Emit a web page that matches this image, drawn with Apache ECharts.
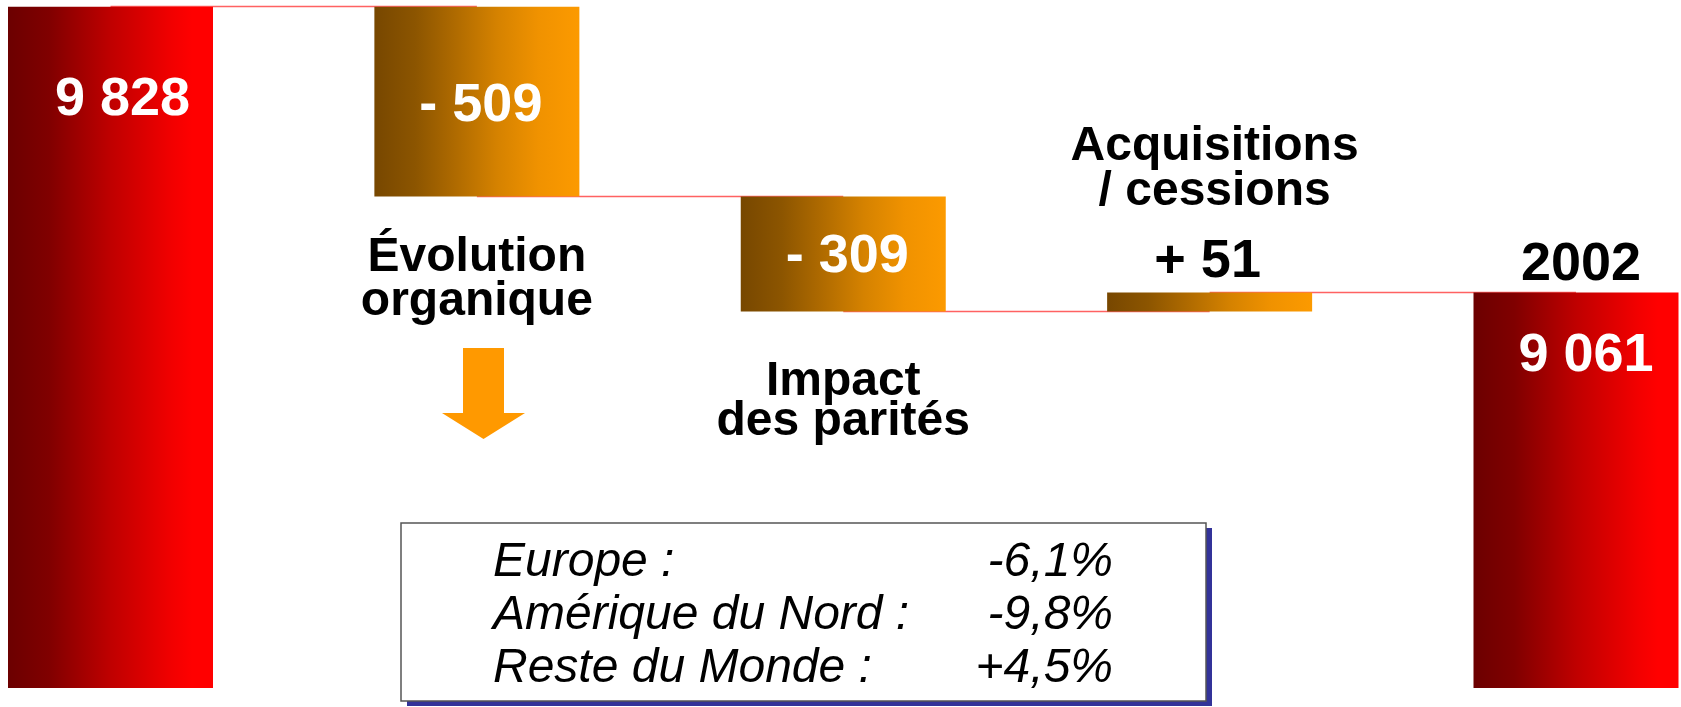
<!DOCTYPE html>
<html>
<head>
<meta charset="utf-8">
<title>Chiffre d'affaires 2002</title>
<script src="https://cdn.jsdelivr.net/npm/echarts@6.0.0/dist/echarts.min.js"></script>
<style>
  html, body { margin: 0; padding: 0; background: #fff; }
  #main { width: 1681px; height: 707px; }
</style>
</head>
<body>
<div id="main"></div>
<script>
// données
const categories = ["", "Évolution\norganique", "Impact\ndes parités", "Acquisitions\n/ cessions", "2002"];
const values = [9828, -509, -309, 51, 9061];
const valueLabels = ["9 828", "- 509", "- 309", "+ 51", "9 061"];
const isTotal = [true, false, false, false, true];
const regionNames = ["Europe :", "Amérique du Nord :", "Reste du Monde :"];
const regionChanges = ["-6,1%", "-9,8%", "+4,5%"];

const AXIS_MIN = 8000;
const AXIS_MAX = 9846;
const BAND = 366.375;           // largeur d'une catégorie en px
const GRID_LEFT = 110.5 - BAND / 2;
const GRID_RIGHT = 1681 - (GRID_LEFT + BAND * categories.length);
const BAR_W = 205;
const FONT = "'Liberation Sans', Arial, Helvetica, sans-serif";

// cascade : base invisible + partie visible
let level = 0;
const base = [], height = [], lows = [], highs = [], levels = [];
values.forEach(function (v, i) {
  if (isTotal[i]) {
    base.push(0);
    height.push(v);
    lows.push(AXIS_MIN);
    highs.push(v);
    level = v;
  } else {
    const lo = Math.min(level, level + v);
    base.push(lo);
    height.push(Math.abs(v));
    lows.push(lo);
    highs.push(lo + Math.abs(v));
    level += v;
  }
  levels.push(level);
});

// traits de liaison, d'un centre de barre au suivant (cachés sous les barres)
const connectors = [];
for (let i = 0; i < values.length - 1; i++) {
  connectors.push({ coords: [[i, levels[i]], [i + 1, levels[i]]] });
}

const redGrad = new echarts.graphic.LinearGradient(0, 0, 1, 0, [
  { offset: 0, color: "#6c0000" },
  { offset: 0.2, color: "#800000" },
  { offset: 0.5, color: "#bf0000" },
  { offset: 0.8, color: "#f20000" },
  { offset: 0.9, color: "#ff0000" },
  { offset: 1, color: "#ff0000" }
]);
const orangeGrad = new echarts.graphic.LinearGradient(0, 0, 1, 0, [
  { offset: 0, color: "#774700" },
  { offset: 0.2, color: "#8c5500" },
  { offset: 0.4, color: "#b06b00" },
  { offset: 0.6, color: "#d58200" },
  { offset: 0.8, color: "#f09200" },
  { offset: 1, color: "#fc9a00" }
]);

// positions des étiquettes (px, par rapport au point d'ancrage)
const valueOffsets = [[12, 93], [4, 99], [4, 61], [-2, -30], [10, 64]];
const catOffsets = [null, [0, 83], [0, 90.5], [5, -123], [5, -27]];
const catLineHeights = [0, 44, 40, 45, 54];

const valueLabelData = values.map(function (v, i) {
  return {
    value: [i, highs[i]],
    label: {
      formatter: valueLabels[i],
      offset: valueOffsets[i],
      color: i === 3 ? "#000" : "#fff"
    }
  };
});

const catLabelData = [];
categories.forEach(function (c, i) {
  if (!c) return;
  const anchor = (!isTotal[i] && values[i] < 0) ? lows[i] : highs[i];
  catLabelData.push({
    value: [i, anchor],
    label: {
      formatter: c,
      offset: catOffsets[i],
      lineHeight: catLineHeights[i],
      fontSize: i === 4 ? 54 : 48
    }
  });
});

// encadré des parités
const boxX = 401, boxY = 523, boxW = 805, boxH = 178;
const lineTop0 = 539, lineStep = 53;
const boxTexts = [];
regionNames.forEach(function (name, i) {
  boxTexts.push({
    type: "text",
    left: 493, top: lineTop0 + i * lineStep,
    style: { text: name, font: "italic 48px " + FONT, fill: "#000" }
  });
  boxTexts.push({
    type: "text",
    right: 1681 - 1113, top: lineTop0 + i * lineStep,
    style: { text: regionChanges[i], font: "italic 48px " + FONT, fill: "#000", textAlign: "right" }
  });
});

const chart = echarts.init(document.getElementById("main"));
const option = {
  backgroundColor: "#fff",
  animation: false,
  grid: {
    left: GRID_LEFT, right: GRID_RIGHT, top: 0, bottom: 19,
    outerBoundsMode: "none"
  },
  xAxis: { type: "category", data: categories, show: false },
  yAxis: { type: "value", min: AXIS_MIN, max: AXIS_MAX, show: false },
  series: [
    {
      name: "connecteurs",
      type: "lines",
      coordinateSystem: "cartesian2d",
      z: 1,
      silent: true,
      lineStyle: { color: "#ff6262", width: 1.3, opacity: 1 },
      data: connectors
    },
    {
      name: "base",
      type: "bar",
      stack: "w",
      barWidth: BAR_W,
      z: 2,
      itemStyle: { color: "transparent" },
      data: base
    },
    {
      name: "valeur",
      type: "bar",
      stack: "w",
      barWidth: BAR_W,
      z: 2,
      data: height.map(function (v, i) {
        return { value: v, itemStyle: { color: isTotal[i] ? redGrad : orangeGrad } };
      })
    },
    {
      name: "etiquettes",
      type: "scatter",
      symbolSize: 1,
      itemStyle: { color: "transparent", opacity: 1 },
      z: 5,
      label: {
        show: true, position: "inside",
        fontFamily: FONT, fontWeight: "bold", fontSize: 54
      },
      data: valueLabelData
    },
    {
      name: "categories",
      type: "scatter",
      symbolSize: 1,
      itemStyle: { color: "transparent", opacity: 1 },
      z: 5,
      label: {
        show: true, position: "inside", align: "center",
        fontFamily: FONT, fontWeight: "bold", fontSize: 48, color: "#000"
      },
      data: catLabelData
    }
  ],
  graphic: [
    {
      type: "polygon",
      shape: { points: [[463, 348], [504, 348], [504, 413], [525, 413], [483.5, 439], [442, 413], [463, 413]] },
      style: { fill: "#ff9900" }
    },
    {
      type: "rect",
      shape: { x: boxX + 6, y: boxY + 5, width: boxW, height: boxH },
      style: { fill: "#333399" }
    },
    {
      type: "rect",
      shape: { x: boxX, y: boxY, width: boxW, height: boxH },
      style: { fill: "#fff", stroke: "#555", lineWidth: 1.5 }
    }
  ].concat(boxTexts)
};
chart.setOption(option);
</script>
</body>
</html>
